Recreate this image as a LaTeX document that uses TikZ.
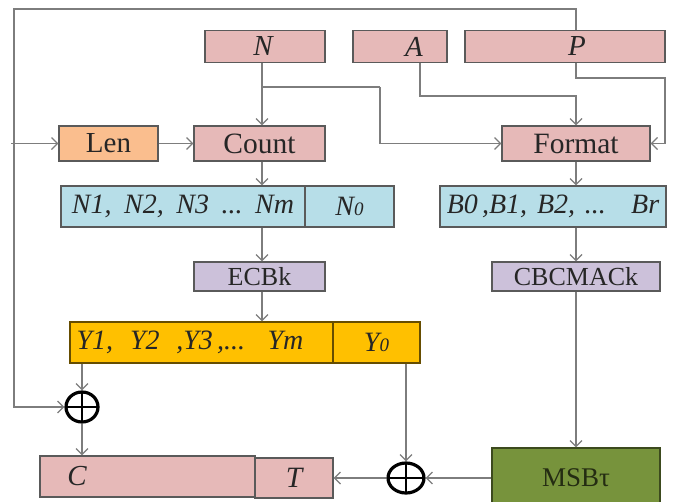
\documentclass[tikz,border=0pt]{standalone}
\usepackage{fontspec}
\setmainfont{Liberation Serif}
\usetikzlibrary{arrows.meta,shapes.geometric}
\definecolor{pinkf}{RGB}{230,185,184}
\definecolor{orangef}{RGB}{250,190,142}
\definecolor{bluef}{RGB}{183,222,232}
\definecolor{lavf}{RGB}{204,193,218}
\definecolor{yelf}{RGB}{255,192,0}
\definecolor{greenf}{RGB}{119,147,60}
\definecolor{edgec}{RGB}{90,90,90}
\definecolor{linec}{RGB}{125,125,125}
\tikzset{
  box/.style={draw=edgec, line width=1.3pt, inner sep=0pt, anchor=center, text=black!85,
    font=\fontsize{29.5}{31}\selectfont},
  pinkbox/.style={box, fill=pinkf},
  orbox/.style={box, fill=orangef, font=\fontsize{29}{31}\selectfont},
  bluebox/.style={box, fill=bluef, font=\fontsize{28}{30}\selectfont},
  lavbox/.style={box, fill=lavf, font=\fontsize{26}{28}\selectfont},
  yelbox/.style={box, fill=yelf, draw=black!60!yelf, font=\fontsize{28}{30}\selectfont},
  grnbox/.style={box, fill=greenf, draw=black!50!greenf, text=black!70!greenf, font=\fontsize{27}{29}\selectfont},
  lbl/.style={inner sep=0pt, text=black!85, font=\fontsize{29}{31}\selectfont\itshape},
  conn/.style={draw=linec, line width=1.3pt},
  arr/.style={conn, -{Straight Barb[length=6pt,width=12pt,line width=1.2pt]}},
  xorop/.style={ellipse, draw=black, line width=3.2pt, inner sep=0pt,
    path picture={\draw[line width=2.6pt] (path picture bounding box.north) -- (path picture bounding box.south)
      (path picture bounding box.west) -- (path picture bounding box.east);}},
}
\begin{document}
\begin{tikzpicture}[x=1pt,y=-1pt]
\useasboundingbox (0,0) rectangle (674,501);
\fill[white] (0,0) rectangle (674,501);
% coordinates for line positions
\coordinate (lx) at (262,0);
\coordinate (rx) at (576,0);
\coordinate (ax) at (420,0);
\coordinate (topy) at (0,9);
\coordinate (leftx) at (14,0);
% top row
\node[pinkbox, minimum width=120pt, minimum height=32pt] (N) at (265,46.5) {};
\node[lbl] (Nl) at (263,46.5) {N};
\node[pinkbox, minimum width=94pt, minimum height=32pt] (A) at (400,46.5) {};
\node[lbl] (Al) at (414,46.5) {A};
\node[pinkbox, minimum width=200pt, minimum height=32pt] (P) at (565,46.5) {};
\node[lbl] (Pl) at (577,46.5) {P};
% second row
\node[orbox, minimum width=99pt, minimum height=35pt] (Len) at (108.5,143.5) {Len};
\node[pinkbox, minimum width=131pt, minimum height=35pt] (Count) at (259.5,143.5) {Count};
\node[pinkbox, minimum width=148pt, minimum height=35pt] (Format) at (576,143.5) {Format};
% blocks
\node[bluebox, minimum width=244pt, minimum height=41pt] (Nb) at (183,206.5)
  {\itshape N1,\hspace{0.45em}N2,\hspace{0.45em}N3\hspace{0.45em}...\hspace{0.45em}Nm};
\node[bluebox, minimum width=89pt, minimum height=41pt] (N0) at (349.5,206.5)
  {\itshape N{\fontsize{19}{20}\selectfont 0}};
\node[bluebox, minimum width=226pt, minimum height=41pt] (Bb) at (553,206.5)
  {\itshape B0\hspace{0.15em},B1,\hspace{0.35em}B2,\hspace{0.35em}...\hspace{0.9em}Br};
\node[lavbox, minimum width=131pt, minimum height=29pt] (ECB) at (259.5,276.5) {ECBk};
\node[lavbox, minimum width=168pt, minimum height=29pt] (CBC) at (576,276.5) {CBCMACk};
\node[yelbox, minimum width=263pt, minimum height=41pt] (Yb) at (201.5,342.5) {};
\node[yelbox, draw=none, fill=none, anchor=west] (Ybl) at (76,342.5)
  {\itshape Y1,\hspace{0.6em}Y2\hspace{0.6em},Y3\hspace{0.15em},...\hspace{0.8em}Ym};
\node[yelbox, minimum width=87pt, minimum height=41pt] (Y0) at (376.5,342.5)
  {\itshape Y{\fontsize{19}{20}\selectfont 0}};
% bottom row
\node[pinkbox, minimum width=215pt, minimum height=41pt] (C) at (147.5,476.5) {};
\node[lbl] (Cl) at (77,476.5) {C};
\node[pinkbox, minimum width=78pt, minimum height=40pt] (T) at (294,478) {\itshape T};
\node[grnbox, minimum width=168pt, minimum height=60pt] (MSB) at (576,478) {MSBτ};
% xors
\node[xorop, minimum width=32pt, minimum height=30pt] (X1) at (82,407) {};
\node[xorop, minimum width=36pt, minimum height=30pt] (X2) at (406,478) {};
% connectors
\draw[arr] (N.south -| lx) -- (Count.north -| lx);
\draw[conn] (0,87 -| lx) coordinate (nb) -- (380,87) coordinate (nb2);
\draw[arr] (nb2) -- (Format.west -| nb2) -- (Format.west);
\draw[arr] (A.south -| ax) -- (ax |- 0,96) -- (rx |- 0,96) -- (Format.north -| rx);
\draw[arr] (P.south -| rx) -- (rx |- 0,78) -- (665,78) -- (665,143.5) -- (Format.east);
\draw[arr] (P.north -| rx) -- (rx |- topy) -- (leftx |- topy) -- (leftx |- X1.west) -- (X1.west);
\draw[arr] (11,143.5) -- (Len.west);
\draw[arr] (Len.east) -- (Count.west);
\draw[arr] (Count.south -| lx) -- (Nb.north -| lx);
\draw[arr] (Nb.south -| lx) -- (ECB.north -| lx);
\draw[arr] (ECB.south -| lx) -- (Yb.north -| lx);
\draw[arr] (Format.south) -- (Bb.north -| rx);
\draw[arr] (Bb.south -| rx) -- (CBC.north -| rx);
\draw[arr] (CBC.south -| rx) -- (MSB.north -| rx);
\draw[arr] (Yb.south -| X1.north) -- (X1.north);
\draw[arr] (X1.south) -- (C.north -| X1.south);
\draw[arr] (Y0.south -| X2.north) -- (X2.north);
\draw[arr] (MSB.west |- X2.east) -- (X2.east);
\draw[arr] (X2.west) -- (T.east |- X2.west);
\end{tikzpicture}
\end{document}
